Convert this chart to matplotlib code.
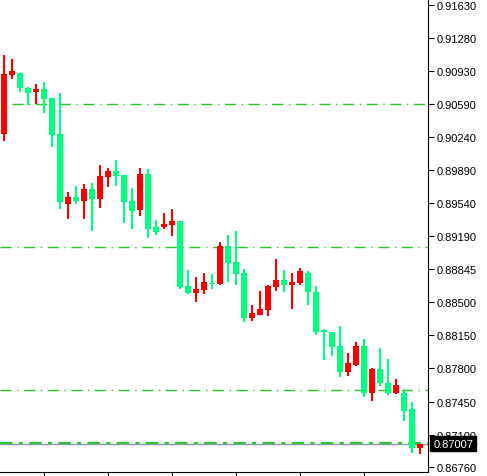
import numpy as np
import matplotlib.pyplot as plt

# OHLC
opens = [0.90270, 0.90892, 0.90913, 0.90755, 0.90713, 0.90744, 0.90650, 0.90270, 0.89532, 0.89606,
         0.89564, 0.89690, 0.89585, 0.89817, 0.89880, 0.89838, 0.89564, 0.89469, 0.89849, 0.89290,
         0.89290, 0.89311, 0.89353, 0.88668, 0.88594, 0.88626, 0.88700, 0.88689, 0.89090, 0.88921,
         0.88805, 0.88331, 0.88362, 0.88415, 0.88657, 0.88731, 0.88679, 0.88700, 0.88805, 0.88605,
         0.88204, 0.88183, 0.88036, 0.87762, 0.87835, 0.88036, 0.87540, 0.87793, 0.87646, 0.87540,
         0.87540, 0.87372, 0.86961]
highs = [0.91103, 0.91061, 0.90913, 0.90765, 0.90797, 0.90818, 0.90650, 0.90702, 0.89659, 0.89722,
         0.89743, 0.89754, 0.89943, 0.89912, 0.89996, 0.89838, 0.89701, 0.89912, 0.89901, 0.89364,
         0.89437, 0.89480, 0.89353, 0.88837, 0.88763, 0.88805, 0.88795, 0.89132, 0.89206, 0.89248,
         0.88847, 0.88468, 0.88615, 0.88679, 0.88953, 0.88837, 0.88805, 0.88858, 0.88826, 0.88668,
         0.88215, 0.88183, 0.88246, 0.87962, 0.88078, 0.88109, 0.87804, 0.88015, 0.87899, 0.87688,
         0.87582, 0.87445, 0.87003]
lows = [0.90196, 0.90850, 0.90713, 0.90576, 0.90586, 0.90491, 0.90133, 0.89480, 0.89374, 0.89532,
        0.89374, 0.89248, 0.89490, 0.89711, 0.89722, 0.89332, 0.89269, 0.89406, 0.89174, 0.89206,
        0.89269, 0.89195, 0.88636, 0.88584, 0.88499, 0.88584, 0.88636, 0.88679, 0.88710, 0.88679,
        0.88289, 0.88299, 0.88362, 0.88352, 0.88615, 0.88605, 0.88426, 0.88679, 0.88468, 0.88152,
        0.87888, 0.87930, 0.87709, 0.87719, 0.87825, 0.87498, 0.87456, 0.87614, 0.87519, 0.87530,
        0.87245, 0.86908, 0.86897]
closes = [0.90903, 0.90934, 0.90755, 0.90702, 0.90744, 0.90639, 0.90260, 0.89553, 0.89606, 0.89564,
          0.89690, 0.89585, 0.89827, 0.89880, 0.89827, 0.89553, 0.89459, 0.89849, 0.89269, 0.89237,
          0.89322, 0.89353, 0.88657, 0.88594, 0.88636, 0.88710, 0.88689, 0.89090, 0.88910, 0.88795,
          0.88331, 0.88383, 0.88426, 0.88668, 0.88731, 0.88679, 0.88710, 0.88826, 0.88605, 0.88183,
          0.88183, 0.88025, 0.87762, 0.87856, 0.88036, 0.87540, 0.87793, 0.87646, 0.87540, 0.87625,
          0.87351, 0.86961, 0.87007]

level_lines = [0.90586, 0.89080, 0.87572]
last_price = 0.87007
yticks = [0.91630, 0.91280, 0.90930, 0.90590, 0.90240, 0.89890, 0.89540, 0.89190, 0.88845,
          0.88500, 0.88150, 0.87800, 0.87450, 0.87100, 0.86760]
ytick_labels = ["0.91630", "0.91280", "0.90930", "0.90590", "0.90240", "0.89890", "0.89540",
                "0.89190", "0.88845", "0.88500", "0.88150", "0.87800", "0.87450", "0.87100", "0.86760"]

up_col = '#ff0000'
dn_col = '#00ff80'

fig = plt.figure(figsize=(4.87, 4.77), dpi=100)
ax = fig.add_axes([0, 1 - 473 / 477, 428 / 487, 473 / 477])

x = np.arange(len(opens))
for i in x:
    o, h, l, c = opens[i], highs[i], lows[i], closes[i]
    col = up_col if c >= o else dn_col
    ax.vlines(i, l, h, color=col, lw=1.5, zorder=3)
    ax.bar(i, max(abs(c - o), 0.00003), bottom=min(o, c), width=0.66, color=col, lw=0, zorder=3)

ax.hlines(level_lines[0], 1, 53, colors='#22cc22', linestyles=(0, (8, 4, 1, 4)), lw=1, zorder=2)
for lv in level_lines[1:]:
    ax.axhline(lv, color='#22cc22', ls=(0, (8, 4, 1, 4)), lw=1, zorder=2)
ax.axhline(last_price + 0.00006, color='#22cc22', ls=(0, (6, 3, 2, 3)), lw=1.5, zorder=2)
ax.axhline(last_price, color='#8899aa', lw=1, zorder=2)

ax.set_xlim(-0.5, 53)
ax.set_ylim(0.86708, 0.91693)
ax.yaxis.tick_right()
ax.set_yticks(yticks)
ax.set_yticklabels(ytick_labels, fontsize=8, family='Liberation Sans')
ax.tick_params(axis='y', length=4, pad=2)
ax.set_xticks([5, 13, 21, 29, 37, 45])
ax.set_xticklabels([])
ax.tick_params(axis='x', length=4, direction='out')
for s in ['top', 'left']:
    ax.spines[s].set_visible(False)
ax.text(1.012, last_price, "0.87007", transform=ax.get_yaxis_transform(), fontsize=8,
        family='Liberation Sans', color='white', va='center', ha='left', zorder=10,
        bbox=dict(boxstyle='square,pad=0.25', fc='black', ec='black'))

fig.savefig('out.png', dpi=100)
